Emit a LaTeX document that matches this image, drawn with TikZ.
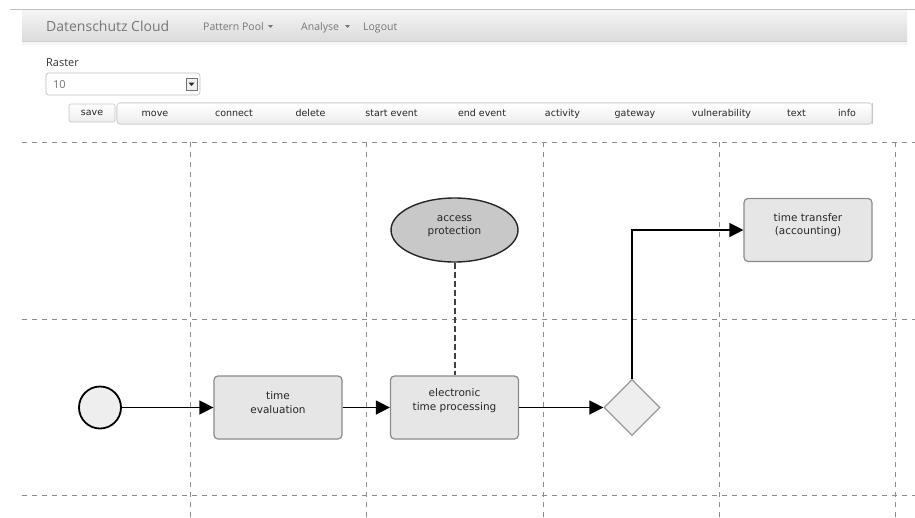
\documentclass[tikz,border=0pt]{standalone}
\usepackage{fontspec}
\setmainfont{DejaVu Sans}
\newfontfamily\uifont{Open Sans}
\newfontfamily\dvfont{DejaVu Sans}
\usetikzlibrary{arrows.meta,shapes.geometric}
\definecolor{boxfill}{HTML}{E6E6E6}
\definecolor{boxdraw}{HTML}{8A8A8A}
\definecolor{gridc}{HTML}{8C8C8C}
\definecolor{ellfill}{HTML}{C8C8C8}
\definecolor{evfill}{HTML}{EEEEEE}
\definecolor{hdrtext}{HTML}{777777}
\definecolor{btnborder}{HTML}{C8C8C8}
\tikzset{
  gridline/.style={draw=gridc, line width=0.9pt, dash pattern=on 5pt off 5pt},
  taskbox/.style={draw=boxdraw, fill=boxfill, line width=1.2pt, rounded corners=4pt,
    minimum width=128pt, minimum height=63pt, inner sep=0pt},
  lbl/.style={font=\dvfont\fontsize{10.5}{13.5}\selectfont, align=center, text=black!85},
  vuln/.style={ellipse, draw=black!85, fill=ellfill, line width=1.4pt,
    minimum width=127pt, minimum height=64pt, inner sep=0pt},
  startev/.style={circle, draw=black, fill=evfill, line width=1.8pt, minimum size=42pt, inner sep=0pt},
  gw/.style={diamond, draw=black!40, fill=evfill, line width=1.2pt, minimum width=56pt, minimum height=56pt, inner sep=0pt},
  flow/.style={draw=black, line width=1.4pt, -{Triangle[length=14pt,width=14pt]}},
  assoc/.style={draw=black!75, line width=2pt, dash pattern=on 6pt off 3pt},
  btn/.style={top color=white, bottom color=black!7,
    minimum height=20pt, inner sep=0pt, text height=7pt, text depth=2pt,
    font=\dvfont\fontsize{9.5}{11}\selectfont, text=black!85},
  menu/.style={font=\uifont\fontsize{10.5}{13}\selectfont, text=hdrtext, anchor=base west,
    inner sep=0pt},
}
\begin{document}
\begin{tikzpicture}[x=1pt,y=-1pt]
\useasboundingbox (0,0) rectangle (915,517);
\fill[white] (0,0) rectangle (915,517);
% header bar
\draw[black!25, line width=0.8pt] (10,9) -- (915,9);
\fill[black!4] (22,41) rectangle (907,45);
\shade[top color=black!4, bottom color=black!14] (22,10) rectangle (907,41);
\draw[black!18, line width=0.6pt] (22,41) -- (907,41);
\node[font=\uifont\fontsize{14}{16}\selectfont, text=hdrtext, anchor=base west, inner sep=0pt] (brand) at (46,31) {Datenschutz Cloud};
\node[menu] (pp) at (203,30) {Pattern Pool};
\fill[hdrtext] (268,25) -- (273,25) -- (270.5,28) -- cycle;
\node[menu] (an) at (301,30) {Analyse};
\fill[hdrtext] (345,25) -- (350,25) -- (347.5,28) -- cycle;
\node[menu] (lo) at (363,30) {Logout};
% raster
\node[font=\uifont\fontsize{11}{13}\selectfont, text=black!80, anchor=base west, inner sep=0pt] (raster) at (46,66) {Raster};
\draw[black!25, fill=white, rounded corners=3pt, line width=0.7pt] (46,73) rectangle (200,95);
\node[font=\uifont\fontsize{11}{13}\selectfont, text=black!55, anchor=base west, inner sep=0pt] (rv) at (53,88.5) {10};
\draw[black!55, fill=black!6, line width=0.6pt] (186,78) rectangle (197,90);
\fill[black!85] (188.5,82.5) -- (194.5,82.5) -- (191.5,86) -- cycle;
% buttons
\draw[btnborder, rounded corners=3pt, line width=0.6pt, fill=black!3] (117,103) rectangle (872,124);
\node[btn, draw=btnborder, line width=0.6pt, rounded corners=2pt, minimum width=46pt, minimum height=18pt] (bsave) at (92,113) {save};
\foreach \a/\b/\t/\n in {117/193/move/bmove, 193/275/connect/bconn, 275/346/delete/bdel,
  346/437/start event/bstart, 437/527/end event/bend, 527/598/activity/bact,
  598/672/gateway/bgw, 672/771/vulnerability/bvul, 771/822/text/btext, 822/872/info/binfo}{
  \node[btn, minimum width=\b pt-\a pt] (\n) at ({(\a+\b)/2},113.5) {\t};
  \draw[btnborder, line width=0.6pt] (\b,103) -- (\b,124);
}
\draw[btnborder, rounded corners=3pt, line width=0.6pt] (117,103) rectangle (872,124);
% grid
\foreach \y in {142,319,495}{ \draw[gridline] (22,\y) -- (915,\y); }
\foreach \x in {190,366,543,719,895}{ \draw[gridline] (\x,142) -- (\x,517); }
% diagram
\node[startev] (s) at (100,407.5) {};
\node[taskbox] (te) at (278,407.5) {};
\node[lbl] (tel) at ([yshift=5pt]te.center) {time\\evaluation};
\node[taskbox] (etp) at (454.5,407.5) {};
\node[lbl] (etpl) at ([yshift=7pt]etp.center) {electronic\\time processing};
\node[vuln] (ap) at (454.5,230) {};
\node[lbl] (apl) at ([yshift=4pt]ap.center) {access\\protection};
\node[gw] (g) at (632,407.5) {};
\node[taskbox] (tt) at (808,230) {};
\node[lbl] (ttl) at ([yshift=5pt]tt.center) {time transfer\\(accounting)};
\draw[flow] (s) -- (te);
\draw[flow] (te) -- (etp);
\draw[flow] (etp) -- (g);
\draw[flow] (g.north) |- (tt.west);
\draw[assoc] (ap.south) -- (etp.north);
\end{tikzpicture}
\end{document}
